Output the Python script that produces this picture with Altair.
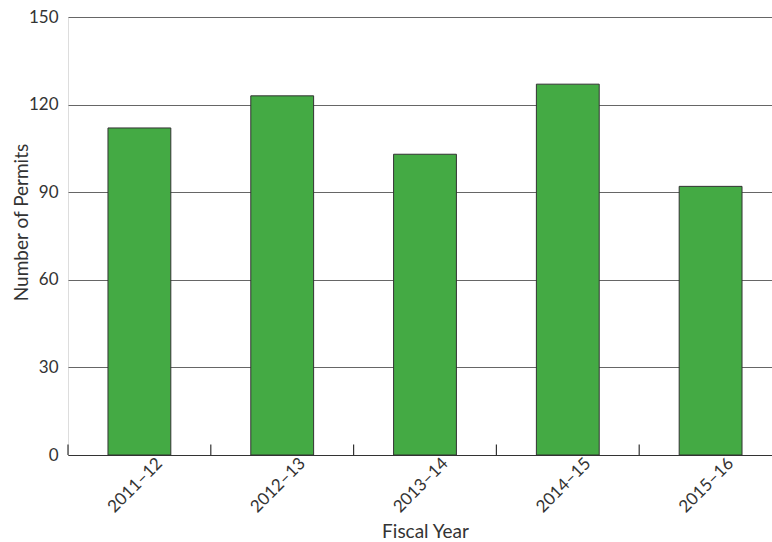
import altair as alt
import pandas as pd

years = ["2011–12", "2012–13", "2013–14", "2014–15", "2015–16"]
permits = [112, 123, 103, 127, 92]
y_ticks = [0, 30, 60, 90, 120, 150]

df = pd.DataFrame({"year": years, "permits": permits})

FONT = "Lato"
RANGE = [0, 714]

x_scale = alt.Scale(domain=years, range=RANGE, paddingInner=0.56, paddingOuter=0.28)
tick_scale = alt.Scale(domain=years, range=RANGE, paddingInner=0, paddingOuter=0)
y_scale = alt.Scale(domain=[0, 150], nice=False, zero=True)

bars = alt.Chart(df).mark_bar(
    color="#44aa44", stroke="#333333", strokeWidth=1
).encode(
    x=alt.X("year:N", scale=x_scale, sort=years,
            axis=alt.Axis(title="Fiscal Year", labelAngle=-45, labelAlign="center",
                          labelBaseline="middle", labelFont=FONT, labelFontSize=17,
                          labelColor="#333333", titleFont=FONT, titleFontSize=19,
                          titleFontWeight="normal", titleColor="#333333",
                          domainColor="#333333", domainWidth=1.2, ticks=False,
                          labelPadding=30, titlePadding=7, labelOffset=-4)),
    y=alt.Y("permits:Q", scale=y_scale,
            axis=alt.Axis(title="Number of Permits", values=y_ticks, domain=False,
                          ticks=False, grid=True, gridColor="#666666", gridWidth=1,
                          labelFont=FONT, labelFontSize=17, labelColor="#333333",
                          labelPadding=10, titleFont=FONT, titleFontSize=19,
                          titleFontWeight="normal", titleColor="#333333",
                          titleX=-41, titleY=205, titleBaseline="alphabetic",
                          titleAlign="center", titleAngle=270)),
)

ticks = alt.Chart(df).mark_rule(color="#333333", strokeWidth=1.2).encode(
    x=alt.X("year:N", scale=tick_scale, sort=years, bandPosition=0, axis=None),
    y=alt.datum(0, scale=y_scale),
    y2=alt.datum(3.6),
)

chart = alt.layer(bars, ticks).resolve_scale(x="independent").properties(
    width=704, height=438,
    autosize=alt.AutoSizeParams(type="none"),
    padding={"left": 68, "top": 17, "right": 0, "bottom": 87},
).configure_view(stroke=None).configure(background="white")

chart.save("out.html", embed_options={"renderer": "svg", "actions": False})
